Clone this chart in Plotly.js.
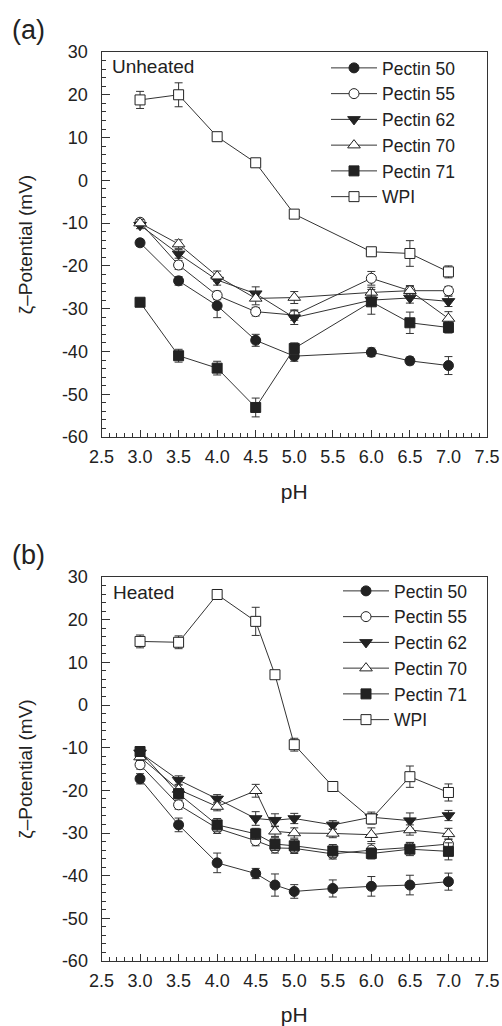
<!DOCTYPE html>
<html>
<head>
<meta charset="utf-8">
<script src="https://cdn.plot.ly/plotly-3.0.1.min.js"></script>
<style>html,body{margin:0;padding:0;background:#fff;}#chart{width:502px;height:1026px;}</style>
</head>
<body>
<div id="chart"></div>
<script>
// ---- Data ----
var seriesNames = ['Pectin 50', 'Pectin 55', 'Pectin 62', 'Pectin 70', 'Pectin 71', 'WPI'];

// Panel (a): unheated
var pHa = [3.0, 3.5, 4.0, 4.5, 5.0, 6.0, 6.5, 7.0];
var p50a = [-14.6, -23.5, -29.3, -37.4, -41.1, -40.2, -42.2, -43.3];
var p50aErr = [0.8, 1.0, 2.8, 1.4, 1.2, 1.0, 0.9, 2.1];
var p55a = [-9.8, -19.8, -26.9, -30.7, -31.5, -22.9, -25.8, -25.8];
var p55aErr = [0.8, 1.0, 1.0, 1.0, 1.2, 1.6, 1.0, 1.0];
var p62a = [-10.5, -17.2, -23.3, -26.5, -32.1, -28.0, -27.5, -28.3];
var p62aErr = [0.8, 1.0, 1.2, 1.6, 1.6, 1.2, 1.2, 1.2];
var p70a = [-10.0, -14.9, -22.4, -27.6, -27.4, -26.2, -25.8, -32.3];
var p70aErr = [0.8, 1.0, 1.2, 1.5, 1.4, 1.2, 1.2, 1.6];
var p71a = [-28.5, -41.0, -43.9, -53.1, -39.3, -28.4, -33.3, -34.4];
var p71aErr = [0.6, 1.5, 1.6, 2.2, 1.3, 2.9, 2.5, 1.3];
var wpia = [18.8, 20.0, 10.2, 4.1, -7.9, -16.7, -17.1, -21.4];
var wpiaErr = [2.0, 2.8, 0.8, 0.8, 0.8, 1.0, 3.0, 1.4];

// Panel (b): heated
var pHb = [3.0, 3.5, 4.0, 4.5, 4.75, 5.0, 5.5, 6.0, 6.5, 7.0];
var p50b = [-17.3, -28.1, -37.0, -39.5, -42.2, -43.7, -43.0, -42.5, -42.2, -41.4];
var p50bErr = [1.2, 1.6, 2.3, 1.2, 2.6, 1.6, 2.0, 2.3, 2.3, 2.0];
var p55b = [-14.0, -23.4, -28.9, -31.8, -33.5, -33.6, -34.9, -34.0, -33.4, -32.6];
var p55bErr = [1.0, 1.0, 1.2, 1.2, 1.2, 1.2, 1.2, 1.5, 1.2, 1.2];
var p62b = [-11.2, -17.6, -22.0, -26.6, -27.0, -26.6, -28.1, -26.3, -27.1, -25.9];
var p62bErr = [0.8, 1.0, 1.0, 1.6, 1.5, 1.2, 1.0, 1.2, 1.8, 1.2];
var p70b = [-12.2, -19.8, -23.8, -20.1, -29.6, -30.0, -30.1, -30.4, -29.3, -30.2];
var p70bErr = [0.8, 1.0, 1.0, 1.5, 1.2, 1.2, 1.0, 1.6, 1.2, 1.3];
var p71b = [-10.9, -20.8, -28.1, -30.2, -32.6, -33.0, -34.2, -34.8, -33.8, -34.3];
var p71bErr = [1.0, 1.2, 1.5, 1.3, 1.5, 1.5, 1.5, 1.3, 1.5, 2.0];
var wpib = [14.9, 14.7, 25.9, 19.6, 7.1, -9.3, -19.1, -26.7, -16.8, -20.5];
var wpibErr = [1.5, 1.5, 0.8, 3.3, 0.6, 1.5, 0.6, 1.2, 2.5, 2.0];

var xTickVals = [2.5, 3.0, 3.5, 4.0, 4.5, 5.0, 5.5, 6.0, 6.5, 7.0, 7.5];
var xTickText = ['2.5', '3.0', '3.5', '4.0', '4.5', '5.0', '5.5', '6.0', '6.5', '7.0', '7.5'];
var yTickVals = [-60, -50, -40, -30, -20, -10, 0, 10, 20, 30];
var yTickText = ['-60', '-50', '-40', '-30', '-20', '-10', '0', '10', '20', '30'];

// ---- Styling ----
var INK = '#222';
var W = 502, H = 1026;
var FONT = 'Liberation Sans, Arial, Helvetica, sans-serif';
var markerStyles = [
  {symbol: 'circle', size: 10, color: INK},
  {symbol: 'circle', size: 10, color: '#fff'},
  {symbol: 'triangle-down', size: 11, color: INK},
  {symbol: 'triangle-up', size: 11, color: '#fff'},
  {symbol: 'square', size: 10, color: INK},
  {symbol: 'square', size: 10, color: '#fff'}
];

function mkTrace(i, x, y, err, xa, ya, leg) {
  var m = markerStyles[i];
  return {
    type: 'scatter', mode: 'lines+markers', name: seriesNames[i],
    x: x, y: y, xaxis: xa, yaxis: ya, legend: leg,
    line: {color: '#333', width: 1},
    marker: {symbol: m.symbol, size: m.size, color: m.color, line: {color: INK, width: 1}},
    error_y: {type: 'data', array: err, visible: true, color: '#333', thickness: 1, width: 4},
    cliponaxis: false
  };
}

var dataA = [[p50a, p50aErr], [p55a, p55aErr], [p62a, p62aErr], [p70a, p70aErr], [p71a, p71aErr], [wpia, wpiaErr]];
var dataB = [[p50b, p50bErr], [p55b, p55bErr], [p62b, p62bErr], [p70b, p70bErr], [p71b, p71bErr], [wpib, wpibErr]];
var traces = [];
dataA.forEach(function (d, i) { traces.push(mkTrace(i, pHa, d[0], d[1], 'x', 'y', 'legend')); });
dataB.forEach(function (d, i) { traces.push(mkTrace(i, pHb, d[0], d[1], 'x2', 'y2', 'legend2')); });

function px2x(p) { return p / W; }
function px2y(p) { return 1 - p / H; }

function xAxis(anchor) {
  return {
    anchor: anchor, domain: [px2x(101.5), px2x(487)], range: [2.5, 7.5],
    tickmode: 'array', tickvals: xTickVals, ticktext: xTickText,
    ticks: 'inside', ticklen: 7, tickwidth: 1, tickcolor: '#333',
    minor: {dtick: 0.1, tick0: 2.5, ticks: 'inside', ticklen: 4, tickwidth: 1, tickcolor: '#333'},
    showline: true, linecolor: '#333', linewidth: 1, mirror: true,
    showgrid: false, zeroline: false, automargin: false,
    ticklabelstandoff: 3,
    tickfont: {family: FONT, size: 18, color: INK},
    title: {text: 'pH', font: {family: FONT, size: 21, color: INK}, standoff: 18}
  };
}
function yAxis(anchor, top, bottom) {
  return {
    anchor: anchor, domain: [px2y(bottom), px2y(top)], range: [-60, 30],
    tickmode: 'array', tickvals: yTickVals, ticktext: yTickText,
    ticks: 'inside', ticklen: 8, tickwidth: 1, tickcolor: '#333',
    minor: {dtick: 2, tick0: 0, ticks: 'inside', ticklen: 4, tickwidth: 1, tickcolor: '#333'},
    showline: true, linecolor: '#333', linewidth: 1, mirror: true,
    showgrid: false, zeroline: false, automargin: false,
    ticklabelstandoff: 9,
    tickfont: {family: FONT, size: 18, color: INK},
    title: {text: '\u03b6\u2013Potential (mV)', font: {family: FONT, size: 19, color: INK}, standoff: 24}
  };
}

function legendCfg(xp, yp) {
  return {
    x: px2x(xp), xanchor: 'left', y: px2y(yp), yanchor: 'top',
    bgcolor: 'rgba(0,0,0,0)', borderwidth: 0, itemwidth: 46,
    font: {family: FONT, size: 17.5, color: INK}, tracegroupgap: 0, traceorder: 'normal'
  };
}

var layout = {
  width: W, height: H, margin: {l: 0, r: 0, t: 0, b: 0},
  paper_bgcolor: '#fff', plot_bgcolor: '#fff',
  showlegend: true,
  font: {family: FONT, color: INK},
  xaxis: xAxis('y'),
  yaxis: yAxis('x', 52, 437),
  xaxis2: xAxis('y2'),
  yaxis2: yAxis('x2', 577, 961),
  legend: legendCfg(326, 50),
  legend2: legendCfg(338, 573),
  annotations: [
    {text: '(a)', xref: 'paper', yref: 'paper', x: px2x(28), y: px2y(30), xanchor: 'center', yanchor: 'middle', showarrow: false, font: {family: FONT, size: 27, color: INK}},
    {text: '(b)', xref: 'paper', yref: 'paper', x: px2x(28), y: px2y(555), xanchor: 'center', yanchor: 'middle', showarrow: false, font: {family: FONT, size: 27, color: INK}},
    {text: 'Unheated', xref: 'paper', yref: 'paper', x: px2x(110), y: px2y(67), xanchor: 'left', yanchor: 'middle', showarrow: false, font: {family: FONT, size: 19, color: INK}},
    {text: 'Heated', xref: 'paper', yref: 'paper', x: px2x(111), y: px2y(592), xanchor: 'left', yanchor: 'middle', showarrow: false, font: {family: FONT, size: 19, color: INK}}
  ]
};

Plotly.newPlot('chart', traces, layout, {displayModeBar: false, staticPlot: true});
</script>
</body>
</html>
